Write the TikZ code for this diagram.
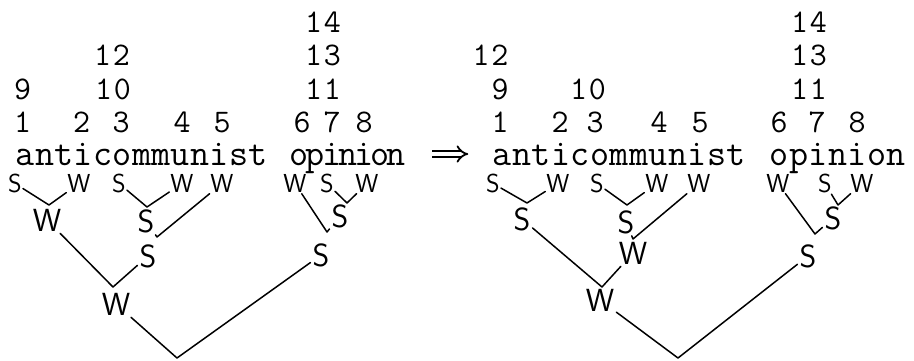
\documentclass[tikz,border=0pt]{standalone}
\usetikzlibrary{arrows.meta}
\makeatletter
\newcommand\pitched[2]{\@tfor\pch:=#2\do{\makebox[#1]{\pch}}}
\makeatother
\tikzset{
  word/.style={anchor=base west, inner sep=0pt, font=\fontsize{37}{37}\selectfont\ttfamily},
  num/.style={anchor=base, inner sep=0pt, font=\fontsize{33}{33}\selectfont\ttfamily},
  lab/.style={inner sep=1pt, font=\fontsize{26}{26}\selectfont\sffamily},
  biglab/.style={inner sep=2pt, font=\fontsize{32}{32}\selectfont\sffamily},
  branch/.style={line width=1.5pt, line cap=round, line join=round},
  implies/.style={double, double distance=4pt, line width=1.8pt, -{Implies}},
}
\begin{document}
\begin{tikzpicture}[x=1pt, y=-1pt]
\useasboundingbox (0,0) rectangle (914,360);

% ---------------- left ----------------
\node[word] (Lw1) at (15.3,165) {\pitched{19.4pt}{anticommunist}};
\node[word] (Lw2) at (290.9,165) {\pitched{16.2pt}{opinion}};

\node[num] (L14) at (323,32) {\pitched{19pt}{14}};
\node[num] (L12) at (112,65.5) {\pitched{19pt}{12}};
\node[num] (L13) at (323,65.5) {\pitched{19pt}{13}};
\node[num] (L9)  at (22.5,99) {9};
\node[num] (L10) at (113,99) {\pitched{19pt}{10}};
\node[num] (L11) at (323,99) {\pitched{19pt}{11}};
\node[num] (L1) at (22.5,132) {1};
\node[num] (L2) at (81.5,132) {2};
\node[num] (L3) at (121,132) {3};
\node[num] (L4) at (182,132) {4};
\node[num] (L5) at (222,132) {5};
\node[num] (L6) at (302,132) {6};
\node[num] (L7) at (332,132) {7};
\node[num] (L8) at (364,132) {8};

\node[lab] (LS1) at (15,183.5) {S};
\node[lab] (LW2) at (79,183.5) {W};
\node[lab] (LS3) at (119,183.5) {S};
\node[lab] (LW4) at (182,183.5) {W};
\node[lab] (LW5) at (222,183.5) {W};
\node[lab] (LW6) at (295,183.5) {W};
\node[lab] (LS7) at (327,183.5) {S};
\node[lab] (LW8) at (367,183.5) {W};

\coordinate (Lv12) at (49,205);
\coordinate (Lv34) at (147,207);
\coordinate (Lv35) at (157,237);
\coordinate (Lv15) at (113,287);
\coordinate (Lv78) at (347,203);
\coordinate (Lv68) at (327,232);
\coordinate (Lroot) at (177,358);

\node[biglab] (LW12) at (47,220) {W};
\node[biglab] (LS34) at (146,221) {S};
\node[biglab] (LS35) at (148,256) {S};
\node[biglab] (LW15) at (116,304) {W};
\node[biglab] (LS78) at (340,216) {S};
\node[biglab] (LS68) at (321,255) {S};

\draw[branch] (LS1) -- (Lv12) -- (LW2);
\draw[branch] (LS3) -- (Lv34) -- (LW4);
\draw[branch] (LS34) -- (Lv35) -- (LW5);
\draw[branch] (LW12) -- (Lv15) -- (LS35);
\draw[branch] (LS7) -- (Lv78) -- (LW8);
\draw[branch] (LW6) -- (Lv68) -- (LS78);
\draw[branch] (LW15) -- (Lroot) -- (LS68);

% ---------------- right ----------------
\node[word] (Rw1) at (492.25,165) {\pitched{19.5pt}{anticommunist}};
\node[word] (Rw2) at (769.25,165) {\pitched{19.5pt}{opinion}};

\draw[implies, shorten <=27.5pt, shorten >=24pt]
  ([yshift=11pt]Lw2.base east) -- ([yshift=11pt]Rw1.base west);

\node[num] (R14) at (809,32) {\pitched{19pt}{14}};
\node[num] (R12) at (490.5,65.5) {\pitched{19pt}{12}};
\node[num] (R13) at (809,65.5) {\pitched{19pt}{13}};
\node[num] (R9)  at (500,99) {9};
\node[num] (R10) at (588,99) {\pitched{19pt}{10}};
\node[num] (R11) at (809,99) {\pitched{19pt}{11}};
\node[num] (R1) at (500,132) {1};
\node[num] (R2) at (560,132) {2};
\node[num] (R3) at (595,132) {3};
\node[num] (R4) at (659,132) {4};
\node[num] (R5) at (700,132) {5};
\node[num] (R6) at (779,132) {6};
\node[num] (R7) at (817,132) {7};
\node[num] (R8) at (857,132) {8};

\node[lab] (RS1) at (493,183.5) {S};
\node[lab] (RW2) at (558,183.5) {W};
\node[lab] (RS3) at (597,183.5) {S};
\node[lab] (RW4) at (657,183.5) {W};
\node[lab] (RW5) at (699,183.5) {W};
\node[lab] (RW6) at (778,183.5) {W};
\node[lab] (RS7) at (825,183.5) {S};
\node[lab] (RW8) at (862,183.5) {W};

\coordinate (Rv12) at (527,203);
\coordinate (Rv34) at (627,205);
\coordinate (Rv35) at (633,239);
\coordinate (Rv15) at (602,287);
\coordinate (Rv78) at (838,205);
\coordinate (Rv68) at (815,234);
\coordinate (Rroot) at (678,358);

\node[biglab] (RS12) at (522,219) {S};
\node[biglab] (RS34) at (626,222) {S};
\node[biglab] (RW35) at (633,253) {W};
\node[biglab] (RW15) at (600,300) {W};
\node[biglab] (RS78) at (833,218) {S};
\node[biglab] (RS68) at (808,256) {S};

\draw[branch] (RS1) -- (Rv12) -- (RW2);
\draw[branch] (RS3) -- (Rv34) -- (RW4);
\draw[branch] (RS34) -- (Rv35) -- (RW5);
\draw[branch] (RS12) -- (Rv15) -- (RW35);
\draw[branch] (RS7) -- (Rv78) -- (RW8);
\draw[branch] (RW6) -- (Rv68) -- (RS78);
\draw[branch] (RW15) -- (Rroot) -- (RS68);
\end{tikzpicture}
\end{document}
